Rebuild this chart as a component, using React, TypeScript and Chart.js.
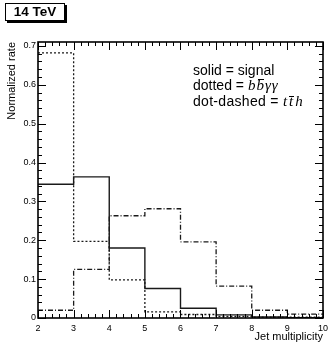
import React, { useEffect, useRef } from "react";
import { Chart, registerables } from "chart.js";

Chart.register(...registerables);

// ---- data ----
const binEdges = [2, 3, 4, 5, 6, 7, 8, 9, 10];
const signal = [0.344, 0.363, 0.18, 0.076, 0.025, 0.008, 0.003, 0.001];
const bbgg = [0.682, 0.197, 0.098, 0.016, 0.009, 0.004, 0.002, 0.002];
const tth = [0.02, 0.125, 0.263, 0.281, 0.196, 0.082, 0.02, 0.01];
const xTicks = [2, 3, 4, 5, 6, 7, 8, 9, 10];
const yTicks = [0, 0.1, 0.2, 0.3, 0.4, 0.5, 0.6, 0.7];
const xMin = 2;
const xMax = 10;
const yMin = 0;
const yMax = 0.71;
const minorDivisions = 5;

const FONT = "'Liberation Sans', Arial, Helvetica, sans-serif";
const SERIF = "'Liberation Serif', 'Times New Roman', serif";

function steps(values: number[]) {
  const pts = values.map((v, i) => ({ x: binEdges[i], y: v }));
  pts.push({ x: binEdges[binEdges.length - 1], y: values[values.length - 1] });
  return pts;
}

const framePlugin = {
  id: "rootFrame",
  afterDatasetsDraw(chart: any) {
    const { ctx, chartArea: a, scales } = chart;
    const x = scales.x;
    const y = scales.y;
    ctx.save();
    ctx.strokeStyle = "#000";
    ctx.lineWidth = 1;
    ctx.beginPath();
    for (let i = 0; i < xTicks.length; i++) {
      const v0 = xTicks[i];
      const v1 = i + 1 < xTicks.length ? xTicks[i + 1] : null;
      const subs: number[] = [v0];
      if (v1 !== null) {
        for (let k = 1; k < minorDivisions; k++) subs.push(v0 + ((v1 - v0) * k) / minorDivisions);
      }
      subs.forEach((v, k) => {
        const len = k === 0 ? 8 : 4;
        const px = Math.round(x.getPixelForValue(v)) + 0.5;
        ctx.moveTo(px, a.bottom);
        ctx.lineTo(px, a.bottom - len);
        ctx.moveTo(px, a.top);
        ctx.lineTo(px, a.top + len);
      });
    }
    for (let i = 0; i < yTicks.length; i++) {
      const v0 = yTicks[i];
      const step = i + 1 < yTicks.length ? yTicks[i + 1] - v0 : yTicks[1] - yTicks[0];
      const subs: number[] = [v0];
      for (let k = 1; k < minorDivisions; k++) {
        const v = v0 + (step * k) / minorDivisions;
        if (v <= yMax) subs.push(v);
      }
      subs.forEach((v, k) => {
        const len = k === 0 ? 8 : 4;
        const py = Math.round(y.getPixelForValue(v)) + 0.5;
        ctx.moveTo(a.left, py);
        ctx.lineTo(a.left + len, py);
        ctx.moveTo(a.right, py);
        ctx.lineTo(a.right - len, py);
      });
    }
    ctx.stroke();
    ctx.lineWidth = 1.6;
    ctx.strokeRect(a.left, a.top, a.right - a.left, a.bottom - a.top);
    ctx.restore();
  },
};

function HistChart() {
  const ref = useRef<HTMLCanvasElement | null>(null);
  useEffect(() => {
    if (!ref.current) return;
    const common = {
      pointRadius: 0,
      pointHoverRadius: 0,
      fill: false,
      stepped: "before" as const,
      borderColor: "#1a1a1a",
      tension: 0,
    };
    const chart = new Chart(ref.current, {
      type: "line",
      data: {
        datasets: [
          { ...common, label: "signal", data: steps(signal), borderWidth: 1.4 },
          { ...common, label: "bbgg", data: steps(bbgg), borderWidth: 1.3, borderDash: [2, 2] },
          { ...common, label: "tth", data: steps(tth), borderWidth: 1.3, borderDash: [5, 2, 1, 2] },
        ],
      },
      options: {
        animation: false,
        responsive: false,
        maintainAspectRatio: false,
        devicePixelRatio: 1,
        layout: { padding: { top: 42, right: 6, left: 0, bottom: 0 } },
        plugins: { legend: { display: false }, tooltip: { enabled: false } },
        scales: {
          x: {
            type: "linear",
            min: xMin,
            max: xMax,
            afterBuildTicks: (s: any) => {
              s.ticks = xTicks.map((v) => ({ value: v }));
            },
            afterFit: (s: any) => {
              s.height = 24;
            },
            grid: { display: false, drawTicks: false },
            border: { display: false },
            ticks: {
              padding: 5,
              color: "#000",
              font: { family: FONT, size: 9 },
              maxRotation: 0,
              autoSkip: false,
              callback: (v: any) => String(v),
            },
            title: {
              display: true,
              text: "Jet multiplicity",
              align: "end",
              color: "#000",
              font: { family: FONT, size: 11, lineHeight: 1 },
              padding: { top: 0, bottom: 0 },
            },
          },
          y: {
            type: "linear",
            min: yMin,
            max: yMax,
            afterBuildTicks: (s: any) => {
              s.ticks = yTicks.map((v) => ({ value: v }));
            },
            afterFit: (s: any) => {
              s.width = 38;
            },
            grid: { display: false, drawTicks: false },
            border: { display: false },
            ticks: {
              padding: 2,
              color: "#000",
              font: { family: FONT, size: 9 },
              autoSkip: false,
              callback: (v: any) => (v === 0 ? "0" : String(Math.round(v * 10) / 10)),
            },
            title: {
              display: true,
              text: "Normalized rate",
              align: "end",
              color: "#000",
              font: { family: FONT, size: 11, lineHeight: 1 },
              padding: { top: 6.5, bottom: 0 },
            },
          },
        },
      },
      plugins: [framePlugin],
    } as any);
    return () => chart.destroy();
  }, []);
  return <canvas ref={ref} width={333} height={342} style={{ display: "block", width: 333, height: 342 }} />;
}

function Bar({ children, top, left, right }: { children: React.ReactNode; top: number; left: number; right: number }) {
  return (
    <span style={{ position: "relative", display: "inline-block" }}>
      {children}
      <span
        style={{ position: "absolute", left, right, top, height: 1, background: "#000", display: "block" }}
      />
    </span>
  );
}

export default function App() {
  const legendLine: React.CSSProperties = {
    position: "absolute",
    left: 193,
    fontFamily: FONT,
    fontSize: 14,
    lineHeight: "16px",
    whiteSpace: "nowrap",
    color: "#000",
  };
  const math: React.CSSProperties = {
    fontFamily: SERIF,
    fontStyle: "italic",
    fontSize: 15,
    letterSpacing: "1px",
  };
  return (
    <div style={{ position: "absolute", left: 0, top: 0, width: 333, height: 342, background: "#fff" }}>
      <HistChart />
      <div
        style={{
          position: "absolute",
          left: 5,
          top: 3,
          width: 58,
          height: 16,
          border: "1.5px solid #000",
          boxShadow: "2px 2px 0 #000",
          background: "#fff",
          fontFamily: FONT,
          fontWeight: "bold",
          fontSize: 13.5,
          lineHeight: "16px",
          textAlign: "center",
          color: "#000",
        }}
      >
        14 TeV
      </div>
      <div style={{ ...legendLine, top: 62 }}>solid = signal</div>
      <div style={{ ...legendLine, top: 77 }}>
        dotted ={" "}
        <span style={math}>
          b<Bar top={1.5} left={2} right={1}>b</Bar>γγ
        </span>
      </div>
      <div style={{ ...legendLine, top: 93, letterSpacing: "0.3px" }}>
        dot-dashed ={" "}
        <span style={{ ...math, letterSpacing: "2px" }}>
          t<Bar top={2.5} left={0} right={1}>t</Bar>h
        </span>
      </div>
    </div>
  );
}
